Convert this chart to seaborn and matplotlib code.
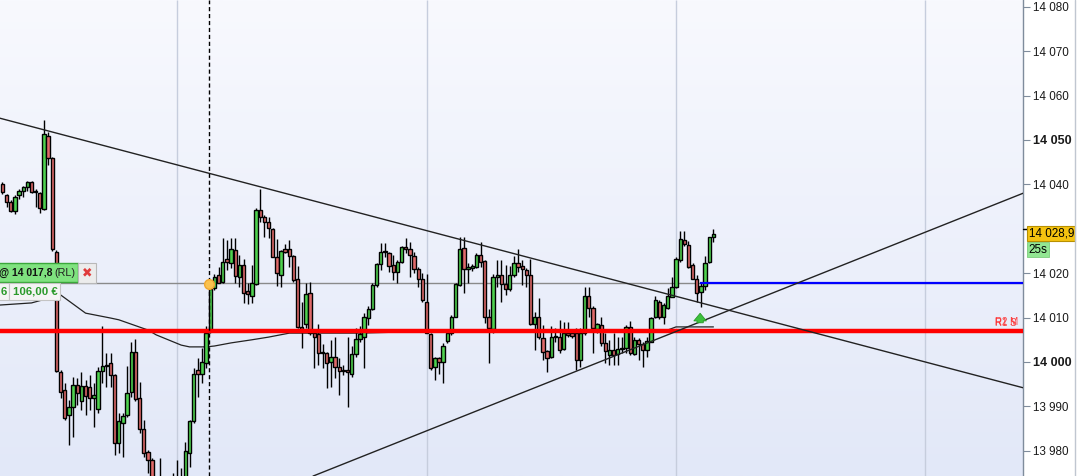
import numpy as np
import pandas as pd
import matplotlib
matplotlib.use('Agg')
import matplotlib.pyplot as plt
import matplotlib.transforms as mtransforms
from matplotlib.colors import LinearSegmentedColormap
from matplotlib.patches import Rectangle
import seaborn as sns

sns.set_style('white')
plt.rcParams['font.family'] = ['Liberation Sans', 'DejaVu Sans']

# ---------------- data ----------------
opens = [14040.1, 14037.6, 14036.0, 14034.1, 14037.6, 14038.4, 14039.3, 14040.5, 14038.2, 14038.0,
         14034.4, 14050.9, 14045.9, 14024.8, 13997.8, 13993.8, 13988.1, 13989.8, 13994.8, 13991.1,
         13994.7, 13994.4, 13991.8, 13989.3, 13998.0, 13999.0, 13999.7, 13997.1, 13981.7, 13986.2,
         13988.1, 13993.3, 14002.2, 13991.8, 13984.8, 13979.7, 13977.9, 13970.0, 13967.0, 13969.0,
         13966.0, 13967.0, 13970.0, 13972.0, 13973.0, 13979.4, 13986.8, 13998.2, 13997.4, 13999.7,
         14007.2, 14016.6, 14019.7, 14018.1, 14023.1, 14022.4, 14025.2, 14019.2, 14021.8, 14016.0,
         14014.9, 14017.6, 14034.2, 14032.6, 14031.6, 14029.9, 14023.7, 14019.7, 14025.4, 14025.4,
         14023.9, 14018.8, 14007.8, 14008.6, 14015.5, 14006.5, 14006.2, 14002.0, 14002.1, 13999.9,
         14001.2, 13998.8, 13998.3, 13998.1, 13997.4, 14001.8, 14005.1, 14005.7, 14009.8, 14011.9,
         14017.3, 14022.1, 14025.1, 14024.6, 14021.8, 14020.2, 14022.6, 14025.8, 14025.4, 14023.9,
         14020.9, 14018.6, 14013.4, 14006.2, 13998.8, 14000.8, 13999.9, 14004.8, 14006.5, 14010.2,
         14017.3, 14025.6, 14020.9, 14021.2, 14021.5, 14024.2, 14022.7, 14010.2, 14007.4, 14019.1,
         14019.6, 14017.6, 14016.4, 14019.5, 14022.4, 14021.7, 14020.7, 14019.7, 14008.6, 14010.1,
         14005.3, 14002.5, 14001.1, 14005.9, 14005.7, 14002.9, 14006.5, 14006.5, 14006.5, 14000.5,
         14006.5, 14014.9, 14012.1, 14007.4, 14008.3, 14004.2, 14001.6, 14002.7, 14001.8, 14002.9,
         14003.1, 14007.8, 14001.9, 14005.0, 14004.1, 14002.6, 14004.6, 14010.2, 14013.6, 14010.2,
         14012.1, 14014.7, 14016.8, 14023.0, 14027.5, 14026.4, 14021.8, 14018.6, 14015.8, 14017.2,
         14022.6, 14028.1]
highs = [14040.5, 14037.8, 14036.5, 14037.5, 14038.9, 14039.6, 14040.8, 14040.8, 14039.0, 14038.2,
         14054.5, 14051.9, 14046.1, 14025.2, 13998.2, 13995.2, 13991.4, 13996.7, 13996.3, 13997.8,
         13995.9, 13997.1, 13995.2, 13998.9, 14008.0, 14002.0, 14002.0, 13997.4, 13988.4, 13988.5,
         13999.0, 14004.4, 14005.1, 13995.6, 13986.9, 13980.2, 13978.3, 13971.0, 13978.3, 13972.0,
         13970.0, 13974.9, 13977.9, 13976.1, 13982.0, 13986.9, 13998.6, 14000.8, 14003.1, 14008.0,
         14016.6, 14019.8, 14021.5, 14027.9, 14027.5, 14027.9, 14027.9, 14024.0, 14023.1, 14017.7,
         14021.8, 14034.6, 14039.0, 14033.1, 14032.7, 14030.1, 14027.6, 14025.2, 14026.6, 14027.5,
         14024.1, 14021.6, 14013.4, 14017.7, 14018.1, 14007.2, 14008.6, 14004.1, 14002.3, 14005.0,
         14005.7, 14000.8, 13999.3, 14005.7, 14003.5, 14007.6, 14008.0, 14011.0, 14012.5, 14017.9,
         14022.4, 14026.9, 14026.7, 14024.8, 14024.1, 14023.0, 14026.1, 14027.9, 14027.1, 14024.8,
         14021.5, 14020.0, 14019.8, 14006.5, 14001.2, 14001.2, 14004.2, 14007.2, 14010.6, 14017.9,
         14028.1, 14028.2, 14022.2, 14022.0, 14024.6, 14027.1, 14023.0, 14011.9, 14019.8, 14023.0,
         14023.0, 14021.8, 14021.6, 14023.9, 14025.4, 14023.0, 14021.1, 14023.3, 14011.3, 14014.3,
         14008.3, 14002.7, 14008.0, 14007.6, 14009.5, 14009.1, 14009.1, 14007.2, 14007.6, 14007.6,
         14016.8, 14017.0, 14012.5, 14008.7, 14010.2, 14006.5, 14005.0, 14006.5, 14005.7, 14005.7,
         14008.3, 14009.3, 14005.7, 14005.3, 14004.6, 14005.7, 14010.2, 14014.9, 14014.0, 14013.2,
         14016.6, 14019.2, 14023.7, 14029.6, 14029.6, 14027.3, 14022.2, 14019.6, 14017.7, 14023.9,
         14028.2, 14029.9]
lows = [14037.8, 14034.8, 14033.7, 14033.3, 14036.8, 14037.1, 14038.4, 14038.0, 14035.0, 14033.5,
        14034.2, 14044.4, 14025.1, 13997.8, 13991.8, 13986.9, 13981.3, 13983.2, 13990.3, 13989.2,
        13988.1, 13989.2, 13985.4, 13988.4, 13995.2, 13994.4, 13994.4, 13979.1, 13979.4, 13978.7,
        13987.7, 13992.2, 13991.1, 13983.9, 13978.7, 13974.9, 13969.0, 13966.0, 13965.0, 13964.0,
        13964.0, 13966.0, 13968.0, 13970.0, 13971.0, 13976.4, 13986.2, 13992.2, 13995.2, 13998.6,
        14006.5, 14016.2, 14017.7, 14017.7, 14020.7, 14021.1, 14017.7, 14017.0, 14013.2, 14013.1,
        14013.2, 14017.3, 14031.6, 14028.1, 14027.9, 14023.6, 14017.2, 14016.9, 14024.5, 14021.5,
        14018.1, 14007.6, 14003.1, 14007.6, 14006.1, 13998.6, 13999.3, 13998.6, 13994.2, 13994.4,
        13996.3, 13992.6, 13997.1, 13989.9, 13996.7, 14001.2, 14004.5, 13998.6, 14008.3, 14011.6,
        14017.0, 14020.7, 14023.7, 14020.3, 14018.5, 14017.9, 14022.2, 14024.5, 14019.2, 14020.1,
        14017.0, 14013.6, 14006.5, 13998.2, 13995.9, 13997.4, 13995.2, 14004.2, 14006.1, 14010.1,
        14017.1, 14015.6, 14017.7, 14020.5, 14021.1, 14021.5, 14008.7, 13999.7, 14006.5, 14017.0,
        14013.4, 14015.1, 14016.1, 14019.2, 14020.3, 14017.3, 14017.0, 14008.3, 14002.7, 14005.1,
        14000.5, 13997.8, 14000.8, 14004.6, 14002.0, 14002.6, 14005.7, 14005.3, 13998.2, 13998.9,
        14006.1, 14010.2, 14002.0, 14006.5, 14003.5, 13999.7, 13999.3, 13999.3, 13999.3, 14002.0,
        14002.0, 14001.6, 14001.6, 14000.5, 13998.8, 14001.1, 14004.4, 14009.8, 14009.6, 14008.6,
        14011.9, 14014.6, 14016.6, 14022.6, 14026.1, 14021.1, 14018.6, 14013.6, 14012.3, 14016.2,
        14022.2, 14027.1]
closes = [14038.2, 14036.0, 14034.0, 14037.2, 14038.5, 14039.3, 14040.5, 14038.2, 14038.4, 14034.6,
          14051.4, 14045.9, 14025.4, 13998.0, 13993.3, 13987.3, 13989.8, 13994.8, 13993.1, 13994.7,
          13992.3, 13992.0, 13992.6, 13998.0, 13999.1, 13999.3, 13997.1, 13981.8, 13986.6, 13987.8,
          13993.1, 14002.2, 13991.6, 13984.8, 13979.4, 13977.9, 13970.0, 13967.0, 13969.0, 13966.0,
          13967.0, 13970.0, 13972.0, 13973.0, 13980.0, 13986.6, 13997.2, 13997.4, 13999.9, 14006.5,
          14016.4, 14019.2, 14017.9, 14022.6, 14022.6, 14025.4, 14019.4, 14021.8, 14015.5, 14015.3,
          14017.7, 14034.2, 14032.7, 14031.6, 14030.1, 14023.7, 14020.0, 14025.1, 14024.8, 14023.9,
          14018.5, 14007.8, 14007.4, 14015.3, 14006.5, 14005.6, 14002.1, 14002.2, 13999.7, 14001.1,
          13998.8, 13998.0, 13998.0, 13997.8, 14001.7, 14005.1, 14006.3, 14010.1, 14011.9, 14017.3,
          14022.0, 14024.8, 14024.7, 14021.6, 14020.2, 14022.6, 14025.8, 14025.4, 14024.1, 14020.9,
          14018.6, 14014.0, 14006.6, 13998.6, 14000.8, 14000.1, 14003.7, 14006.5, 14010.2, 14017.6,
          14025.4, 14020.9, 14021.5, 14021.6, 14024.1, 14022.6, 14010.2, 14007.6, 14019.1, 14019.7,
          14017.6, 14016.4, 14019.7, 14022.4, 14021.5, 14020.9, 14019.6, 14008.6, 14010.2, 14005.6,
          14002.2, 14000.8, 14005.7, 14005.6, 14002.7, 14006.5, 14006.1, 14005.9, 14000.5, 14006.5,
          14014.9, 14012.1, 14007.6, 14008.6, 14004.2, 14002.5, 14002.7, 14001.6, 14002.9, 14003.1,
          14007.8, 14002.1, 14005.0, 14004.1, 14002.6, 14004.8, 14009.8, 14014.0, 14010.1, 14012.8,
          14014.9, 14017.0, 14023.3, 14027.7, 14026.5, 14021.5, 14018.8, 14015.6, 14017.2, 14022.4,
          14028.1, 14028.9]

ma_idx = [-1, 7, 14, 20, 26, 28, 35, 37, 43, 45, 49, 51, 55, 60, 64, 69, 74, 86, 98, 108,
          130, 150, 160, 162, 166, 171]
ma_val = [14012.8, 14013.3, 14015.1, 14011.0, 14009.9, 14009.5, 14007.2, 14006.1, 14003.8, 14003.4,
          14003.4, 14003.6, 14004.3, 14005.0, 14005.6, 14006.5, 14006.5, 14006.5, 14006.8, 14007.0,
          14007.0, 14007.1, 14007.2, 14007.9, 14007.9, 14007.9]

support_level = 14007.0
order_level = 14017.8
target_level = 14017.9
target_start = 167.8
last_price = 14028.9
timer_label_price = 14025.3
entry_marker = (49.76, 14017.6)
arrow_pos = (167.8, 14008.2, 14011.6)

down_trend_idx = [-0.58, 245.45]
down_trend_val = [14054.9, 13994.2]
up_trend_idx = [74.7, 245.45]
up_trend_val = [13974.3, 14038.0]

grid_idx = [42, 102, 162, 222]
session_idx = 49.76

ytick_vals = [13980, 13990, 14000, 14010, 14020, 14030, 14040, 14050, 14060, 14070, 14080]
ytick_labels = ['13 980', '13 990', '14 000', '14 010', '14 020', '', '14 040',
                '14 050', '14 060', '14 070', '14 080']
bold_ticks = ['14 000', '14 050']

XLIM = (-0.58, 245.45)
YLIM = (13974.32, 14081.53)

# ---------------- figure ----------------
W, H = 1077, 476
AX_W = 1023
fig = plt.figure(figsize=(W / 100, H / 100), dpi=100, facecolor='white')
ax = fig.add_axes([0, 0, AX_W / W, 1])

# background gradient
cmap = LinearSegmentedColormap.from_list('bg', ['#f8f9fe', '#e2e8f8'])
grad = np.linspace(0, 1, 256)[:, None]
ax.imshow(grad, extent=(XLIM[0], XLIM[1], YLIM[0], YLIM[1]), aspect='auto',
          cmap=cmap, zorder=0, origin='upper')

# vertical grid lines
ax.vlines(grid_idx, YLIM[0], YLIM[1], color='#c6cddd', lw=1.0, zorder=1)

# order (gray) line
ax.axhline(order_level, color='#8a8a8a', lw=1.0, zorder=2)

# moving average
sns.lineplot(x=ma_idx, y=ma_val, ax=ax, color='#222222', lw=0.9, zorder=2.5,
             estimator=None, legend=False)

# candles
df = pd.DataFrame({'o': opens, 'h': highs, 'l': lows, 'c': closes})
df['i'] = np.arange(len(df))
up = df['c'] >= df['o']
colors = np.where(up, '#4fd24f', '#e06a6a')
ax.vlines(df['i'], df['l'], df['h'], color='black', lw=1.0, zorder=3)
body_bottom = np.minimum(df['o'], df['c'])
body_h = np.maximum(np.abs(df['c'] - df['o']), 0.3)
ax.bar(df['i'], body_h, bottom=body_bottom, width=0.8, color=colors,
       edgecolor='black', linewidth=1.0, zorder=4)

# support line
ax.axhline(support_level, color='#ff0000', lw=3.2, zorder=5)

# target line (blue)
ax.hlines(target_level, target_start, XLIM[1], color='#0000ff', lw=1.6, zorder=5)

# trend lines
ax.plot(down_trend_idx, down_trend_val, color='#222222', lw=1.0, zorder=6)
ax.plot(up_trend_idx, up_trend_val, color='#222222', lw=1.0, zorder=6)

# dashed session line
ax.axvline(session_idx, color='black', lw=1.0, ls=(0, (3, 2)), zorder=6)

# entry marker
ax.plot([entry_marker[0]], [entry_marker[1]], 'o', ms=7, mfc='#fbc24e',
        mec='#f0a830', mew=1.0, zorder=7)

# green arrow
ax.annotate('', xy=(arrow_pos[0], arrow_pos[2]), xytext=(arrow_pos[0], arrow_pos[1]),
            arrowprops=dict(arrowstyle='simple,head_width=0.9,head_length=0.55,tail_width=0.45',
                            fc='#3cc03c', ec='#2a9a2a', lw=0.6), zorder=7)

ax.set_xlim(*XLIM)
ax.set_ylim(*YLIM)

# axis styling
for s in ['top', 'left', 'bottom']:
    ax.spines[s].set_visible(False)
ax.spines['right'].set_color('#7f8c9c')
ax.spines['right'].set_linewidth(1.0)
ax.set_xticks([])
ax.yaxis.tick_right()
ax.set_yticks(ytick_vals)
ax.set_yticklabels(ytick_labels)
ax.tick_params(axis='y', length=5, width=0.8, color='#7f8c9c', labelsize=8.4,
               pad=2, labelcolor='#1a1a1a')
for t in ax.get_yticklabels():
    if t.get_text() in bold_ticks:
        t.set_fontweight('bold')
        t.set_fontsize(9)

trans = mtransforms.blended_transform_factory(ax.transAxes, ax.transData)

# last price marker and labels
ax.plot([1.0, 1.006], [14030, 14030], color='black', lw=1.0,
        transform=trans, clip_on=False, zorder=8)
ax.text(1.0055, last_price, '14 028,9', transform=trans, ha='left', va='center',
        fontsize=8.4, color='black', zorder=9, clip_on=False,
        bbox=dict(boxstyle='square,pad=0.12', fc='#f5c310', ec='#b89000', lw=0.8))
ax.text(1.0055, timer_label_price, '25s', transform=trans, ha='left', va='center',
        fontsize=8.4, color='black', zorder=8.5, clip_on=False,
        bbox=dict(boxstyle='square,pad=0.1', fc='#92e692', ec='#7ccc7c', lw=0.6))

# pivot labels
ax.text(995 / AX_W, 14008.9, 'R2 M', transform=trans, ha='left', va='center',
        fontsize=7, color='#ff2020', zorder=9, alpha=0.85)
ax.text(995 / AX_W, 14008.7, 'R1 S', transform=trans, ha='left', va='center',
        fontsize=7, color='#ff2020', zorder=9, alpha=0.85)

# order label boxes (top-left), in pixel units of the axes
def px_box(x0, y0, x1, y1, fc, ec, lw=0.8):
    r = Rectangle((x0 / AX_W, 1 - y1 / H), (x1 - x0) / AX_W, (y1 - y0) / H,
                  transform=ax.transAxes, fc=fc, ec=ec, lw=lw, zorder=10, clip_on=False)
    ax.add_patch(r)

def px_text(x, y, s, **kw):
    ax.text(x / AX_W, 1 - y / H, s, transform=ax.transAxes, zorder=11, va='center', **kw)

px_box(-2, 263, 78, 282, '#7fe27f', '#3aa83a', 1.0)
px_box(78, 263, 96, 283, '#ececec', '#b8b8b8')
px_box(-2, 283, 9, 300, '#f4f4f4', '#c4c4c4')
px_box(9, 283, 60, 300, '#f4f4f4', '#c4c4c4')
px_text(-1, 272.5, '@ 14 017,8', fontsize=7.5, fontweight='bold', color='#111111', ha='left')
px_text(54, 272.5, '(RL)', fontsize=7.8, color='#222222', ha='left')
px_text(87, 272.5, '\u2716', fontsize=9, color='#e03a3a', ha='center',
        family=['DejaVu Sans'])
px_text(1, 292, '6', fontsize=8.2, color='#2a9a2a', ha='left', fontweight='bold')
px_text(13, 292, '106,00 \u20ac', fontsize=8.2, color='#2a9a2a', ha='left', fontweight='bold')

# right border of the price panel
fig.add_artist(plt.Line2D([1075 / W, 1075 / W], [0, 1], color='#c0c6d0', lw=1.0,
                          transform=fig.transFigure))

fig.savefig('out.png', dpi=100, facecolor='white')
